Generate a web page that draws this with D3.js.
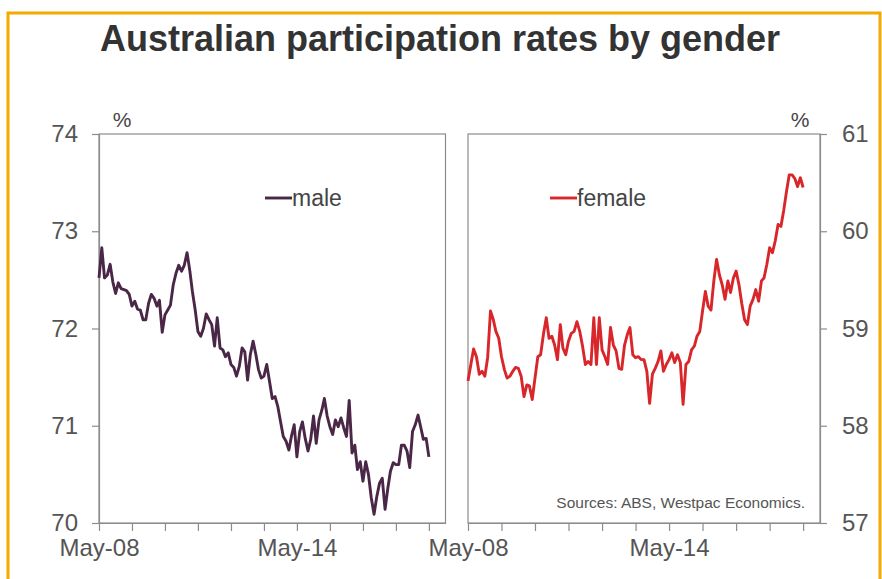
<!DOCTYPE html>
<html>
  <head>
    <meta charset="utf-8">
    <title>Australian participation rates by gender</title>
    <script src="https://d3js.org/d3.v7.min.js"></script>
    <style type="text/css">
      body { margin: 0; background: #fff; }
      svg { display: block; font-family: Arial, "Liberation Sans", sans-serif; }
      .axis path, .axis line { stroke: #8c8c8c; stroke-width: 1.2; }
      .axis text { fill: #555; font-size: 24px; }
    </style>
  </head>
  <body>
    <svg id="chart"></svg>
    <script>
      // monthly, May-08 to May-18
      var male = [
        72.52, 72.83, 72.52, 72.55, 72.66, 72.48, 72.36, 72.47, 72.41,
        72.40, 72.39, 72.35, 72.23, 72.28, 72.20, 72.19, 72.09, 72.09, 72.26,
        72.35, 72.31, 72.23, 72.29, 71.96, 72.14, 72.19, 72.24, 72.45, 72.57,
        72.65, 72.59, 72.65, 72.78, 72.59, 72.38, 72.19, 71.97, 71.92, 72.00, 72.15,
        72.09, 72.04, 71.82, 72.11, 71.80, 71.78, 71.71, 71.75, 71.63,
        71.60, 71.51, 71.61, 71.80, 71.76, 71.47, 71.73, 71.87, 71.73, 71.58,
        71.49, 71.51, 71.63, 71.46, 71.28, 71.30, 71.20,
        71.04, 70.89, 70.84, 70.75, 70.89, 71.01, 70.68, 70.94, 71.04, 70.87, 70.74, 70.86,
        71.10, 70.82, 71.06, 71.16, 71.28, 71.10, 70.99, 70.91, 71.06, 70.99,
        71.08, 70.98, 70.89, 71.26, 70.72, 70.80, 70.55, 70.63, 70.43,
        70.63, 70.50, 70.26, 70.09, 70.27, 70.41, 70.46, 70.14, 70.36, 70.53,
        70.62, 70.60, 70.60, 70.80, 70.80, 70.74, 70.57, 70.94, 71.01, 71.11, 70.98, 70.86, 70.87, 70.68
      ];
      var female = [
        58.46, 58.63, 58.79, 58.71, 58.53, 58.56, 58.51, 58.70, 59.18, 59.09,
        58.97, 58.90, 58.71, 58.58, 58.49, 58.51, 58.56, 58.60, 58.59, 58.51,
        58.30, 58.42, 58.41, 58.27, 58.49, 58.71, 58.73, 58.94, 59.11, 58.90,
        58.92, 58.83, 58.68, 59.04, 58.80, 58.73, 58.87, 58.95, 58.97, 59.07,
        58.97, 58.82, 58.63, 58.66, 58.63, 59.11, 58.63, 59.11, 58.78, 58.71,
        58.63, 59.01, 58.83, 58.77, 58.59, 58.58, 58.83, 58.94, 59.01, 58.73,
        58.70, 58.71, 58.68, 58.68, 58.56, 58.23, 58.53, 58.59, 58.66, 58.77,
        58.56, 58.63, 58.68, 58.75, 58.65, 58.73, 58.65, 58.22, 58.63, 58.66,
        58.78, 58.82, 58.92, 58.97, 59.18, 59.38, 59.23, 59.19, 59.49, 59.71,
        59.55, 59.45, 59.30, 59.49, 59.37, 59.52, 59.59, 59.45, 59.26, 59.09,
        59.04, 59.23, 59.30, 59.40, 59.28, 59.49, 59.52, 59.66, 59.83, 59.78,
        59.90, 60.07, 60.05, 60.21, 60.41, 60.58, 60.58, 60.54, 60.46, 60.55, 60.45
      ];
      var maleTicks = [70, 71, 72, 73, 74];
      var femaleTicks = [57, 58, 59, 60, 61];
      var labelYears = [2008, 2014];

      var width = 882, height = 579;
      var plotTop = 134, plotBottom = 523;
      var start = new Date(2008, 4, 1), end = new Date(2018, 10, 1);
      var months = function(i) { return d3.timeMonth.offset(start, i); };
      var tickDates = d3.range(2008, 2019).map(function(y) { return new Date(y, 4, 1); });
      var fmt = function(d) {
        return labelYears.indexOf(d.getFullYear()) >= 0 ? d3.timeFormat("%b-%y")(d) : "";
      };

      var svg = d3.select("#chart").attr("width", width).attr("height", height);

      // orange frame
      svg.append("rect")
          .attr("x", 8).attr("y", 13)
          .attr("width", 872).attr("height", 620)
          .attr("fill", "#fff").attr("stroke", "#f2a900").attr("stroke-width", 3);

      svg.append("text")
          .attr("x", 440).attr("y", 51)
          .attr("text-anchor", "middle")
          .style("font-size", "36px").style("font-weight", "bold").style("fill", "#333")
          .text("Australian participation rates by gender");

      function panel(data, x0, x1, yDomain, yTicks, side, colour, name, legendX) {
        var x = d3.scaleTime().domain([start, end]).range([x0, x1]);
        var y = d3.scaleLinear().domain(yDomain).range([plotBottom, plotTop]);

        svg.append("rect")
            .attr("x", x0).attr("y", plotTop)
            .attr("width", x1 - x0).attr("height", plotBottom - plotTop)
            .attr("fill", "#fff").attr("stroke", "#8c8c8c").attr("stroke-width", 1.2);

        svg.append("g").attr("class", "axis")
            .attr("transform", "translate(0," + plotBottom + ")")
            .call(d3.axisBottom(x).tickValues(tickDates).tickFormat(fmt)
              .tickSize(8).tickSizeOuter(0).tickPadding(8));

        var yAxis = side == "left" ? d3.axisLeft(y) : d3.axisRight(y);
        svg.append("g").attr("class", "axis")
            .attr("transform", "translate(" + (side == "left" ? x0 : x1) + ",0)")
            .call(yAxis.tickValues(yTicks).tickFormat(d3.format("d"))
              .tickSize(7).tickSizeOuter(0).tickPadding(side == "left" ? 14 : 15));

        svg.append("text")
            .attr("x", side == "left" ? x0 + 23 : x1 - 20).attr("y", 127)
            .attr("text-anchor", "middle")
            .style("font-size", "21px").style("fill", "#444")
            .text("%");

        var line = d3.line()
            .x(function(d, i) { return x(months(i)); })
            .y(function(d) { return y(d); });

        svg.append("path")
            .datum(data)
            .attr("d", line)
            .attr("fill", "none")
            .attr("stroke", colour)
            .attr("stroke-width", 2.9)
            .attr("stroke-linejoin", "round");

        // legend
        svg.append("line")
            .attr("x1", legendX).attr("x2", legendX + 27)
            .attr("y1", 198).attr("y2", 198)
            .attr("stroke", colour).attr("stroke-width", 2.9);
        svg.append("text")
            .attr("x", legendX + 27).attr("y", 206)
            .style("font-size", "23px").style("fill", "#444")
            .text(name);
      }

      panel(male, 99, 445.5, [70, 74], maleTicks, "left", "#4a2747", "male", 265);
      panel(female, 468, 820, [57, 61], femaleTicks, "right", "#d8262a", "female", 550);

      svg.append("text")
          .attr("x", 805).attr("y", 508)
          .attr("text-anchor", "end")
          .style("font-size", "15.5px").style("fill", "#555")
          .text("Sources: ABS, Westpac Economics.");
    </script>
  </body>
</html>
